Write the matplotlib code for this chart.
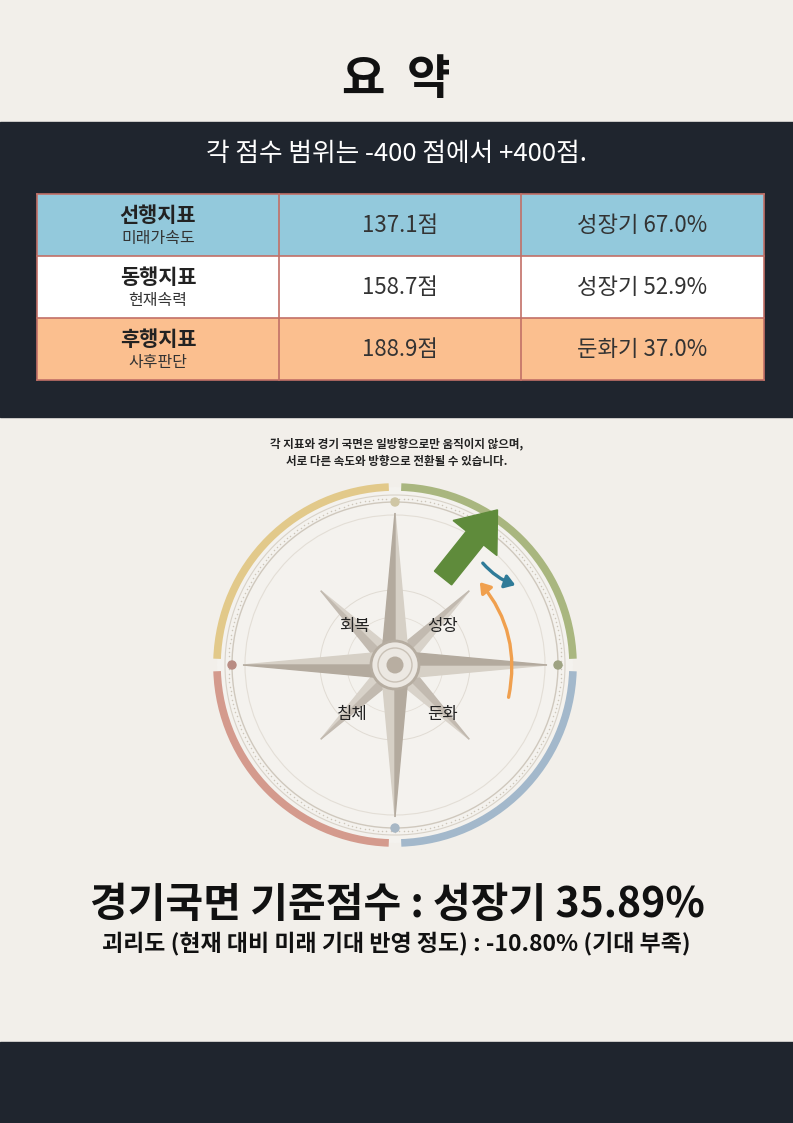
import numpy as np
import matplotlib
matplotlib.use("Agg")
import matplotlib.pyplot as plt
import matplotlib.patches as mp

plt.rcParams['font.family'] = ['Noto Sans CJK KR', 'DejaVu Sans']

# ---- data ----
title = "요  약"
range_note = "각 점수 범위는 -400 점에서 +400점."
indicators = ["선행지표", "동행지표", "후행지표"]
indicator_sub = ["미래가속도", "현재속력", "사후판단"]
scores = [137.1, 158.7, 188.9]
phases = ["성장기", "성장기", "둔화기"]
phase_pct = [67.0, 52.9, 37.0]
row_colors = ["#93c9dc", "#ffffff", "#fbbf8f"]
quadrants = ["회복", "성장", "침체", "둔화"]
base_phase = "성장기"
base_score = 35.89
gap = -10.80
gap_note = "기대 부족"
note_lines = ["각 지표와 경기 국면은 일방향으로만 움직이지 않으며,",
              "서로 다른 속도와 방향으로 전환될 수 있습니다."]

W, H = 793, 1123
fig = plt.figure(figsize=(W / 100, H / 100), dpi=100)
ax = fig.add_axes([0, 0, 1, 1])
ax.set_xlim(0, W)
ax.set_ylim(H, 0)
ax.set_aspect('equal')
ax.axis('off')

BEIGE = "#f2efea"
DARK = "#1f252e"
ax.add_patch(mp.Rectangle((0, 0), W, H, color=BEIGE, zorder=0))
ax.add_patch(mp.Rectangle((0, 122), W, 295, color=DARK, zorder=1))
ax.add_patch(mp.Rectangle((0, 1042), W, 81, color=DARK, zorder=1))

ax.text(396, 80, title, ha='center', va='center', fontsize=34, fontweight='black', color='#111111', zorder=3)
ax.text(396, 154, range_note, ha='center', va='center', fontsize=18.5, fontweight='medium', color='white', zorder=3)

# ---- table ----
x0, x1, x2, x3 = 37, 279, 521, 764
ytop, rh = 194, 62
for i in range(3):
    y = ytop + i * rh
    ax.add_patch(mp.Rectangle((x0, y), x3 - x0, rh, facecolor=row_colors[i], edgecolor='none', zorder=2))
    ax.text((x0 + x1) / 2, y + 21, indicators[i], ha='center', va='center', fontsize=15, fontweight='bold', color='#222222', zorder=3)
    ax.text((x0 + x1) / 2, y + 44, indicator_sub[i], ha='center', va='center', fontsize=11.5, color='#333333', zorder=3)
    ax.text((x1 + x2) / 2, y + rh / 2, f"{scores[i]:.1f}점", ha='center', va='center', fontsize=16, color='#333333', zorder=3)
    ax.text((x2 + x3) / 2, y + rh / 2, f"{phases[i]} {phase_pct[i]:.1f}%", ha='center', va='center', fontsize=16, color='#333333', zorder=3)
bc = "#c27067"
for i in range(4):
    y = ytop + i * rh
    ax.plot([x0, x3], [y, y], color=bc, lw=1.2, zorder=4)
for x in (x0, x1, x2, x3):
    ax.plot([x, x], [ytop, ytop + 3 * rh], color=bc, lw=1.2, zorder=4)

# ---- note ----
ax.text(397, 444, note_lines[0], ha='center', va='center', fontsize=8.3, fontweight='bold', color='#222222', zorder=3)
ax.text(397, 461, note_lines[1], ha='center', va='center', fontsize=8.3, fontweight='bold', color='#222222', zorder=3)

# ---- compass ----
cx, cy = 395, 665
ax.add_patch(mp.Circle((cx, cy), 178, facecolor='#f4f2ee', edgecolor='none', zorder=2))
arc_cols = [("#a9b67f", 2, 88), ("#e2c98a", 92, 178), ("#d49a8d", 182, 268), ("#a3b8cb", 272, 358)]
for col, a1, a2 in arc_cols:
    ax.add_patch(mp.Arc((cx, cy), 2 * 178, 2 * 178, theta1=-a2, theta2=-a1, color=col, lw=5.5, zorder=3))
for r, c, lw in [(170, "#d8d2c8", 0.8), (163, "#cfc8bd", 1.0), (150, "#e3ded6", 0.8), (75, "#e0dbd3", 0.7), (48, "#e3ded6", 0.6)]:
    ax.add_patch(mp.Circle((cx, cy), r, facecolor='none', edgecolor=c, lw=lw, zorder=3))
ang = np.linspace(0, 2 * np.pi, 240, endpoint=False)
ax.scatter(cx + 166.5 * np.cos(ang), cy + 166.5 * np.sin(ang), s=1.2, color="#cdc6ba", zorder=3, linewidths=0)
for (dx, dy), col in zip([(0, -163), (163, 0), (0, 163), (-163, 0)], ["#cfc6a4", "#9ea382", "#a7b7c5", "#b98c83"]):
    ax.add_patch(mp.Circle((cx + dx, cy + dy), 4, color=col, zorder=4))

def point(theta, R, w, c1, c2, z):
    t = np.deg2rad(theta)
    tip = (cx + R * np.cos(t), cy + R * np.sin(t))
    l = (cx + w * np.cos(t + np.pi / 2), cy + w * np.sin(t + np.pi / 2))
    r = (cx + w * np.cos(t - np.pi / 2), cy + w * np.sin(t - np.pi / 2))
    ax.add_patch(mp.Polygon([(cx, cy), l, tip], closed=True, color=c1, zorder=z))
    ax.add_patch(mp.Polygon([(cx, cy), r, tip], closed=True, color=c2, zorder=z))

for th in (45, 135, 225, 315):
    point(th, 105, 11, "#d8d2c9", "#c2bab0", 5)
for th in (0, 90, 180, 270):
    point(th, 152, 14, "#d6d0c6", "#b3aa9e", 6)
ax.add_patch(mp.Circle((cx, cy), 24, facecolor='#ece8e2', edgecolor='#b6ada1', lw=2, zorder=7))
ax.add_patch(mp.Circle((cx, cy), 17, facecolor='none', edgecolor='#c9c1b6', lw=1, zorder=7))
ax.add_patch(mp.Circle((cx, cy), 8.5, facecolor='#b8aea1', edgecolor='none', zorder=7))

qpos = [(354, 627), (443, 627), (352, 715), (443, 715)]
for q, (qx, qy) in zip(quadrants, qpos):
    ax.text(qx, qy, q, ha='center', va='center', fontsize=12, color='#222222', zorder=8)

# arrows
ax.add_patch(mp.FancyArrow(443, 578, 32, -40, width=22, head_width=56, head_length=36,
                           length_includes_head=False, color="#5f8b3b", zorder=9))
ax.add_patch(mp.FancyArrowPatch((481, 561), (518, 586), connectionstyle="arc3,rad=0.15",
                                arrowstyle="-|>,head_length=6,head_width=4", color="#2f7b98", lw=2.4, zorder=9))
ax.add_patch(mp.FancyArrowPatch((508, 700), (478, 580), connectionstyle="arc3,rad=0.25",
                                arrowstyle="-|>,head_length=6,head_width=4", color="#f0a04e", lw=2.4, zorder=9))

# ---- bottom text ----
ax.text(397, 905, f"경기국면 기준점수 : {base_phase} {base_score:.2f}%", ha='center', va='center',
        fontsize=29.5, fontweight='black', color='#111111', zorder=3)
ax.text(396, 943, f"괴리도 (현재 대비 미래 기대 반영 정도) : {gap:.2f}% ({gap_note})", ha='center', va='center',
        fontsize=16.5, fontweight='black', color='#111111', zorder=3)

fig.savefig("out.png", dpi=100, facecolor=BEIGE)
